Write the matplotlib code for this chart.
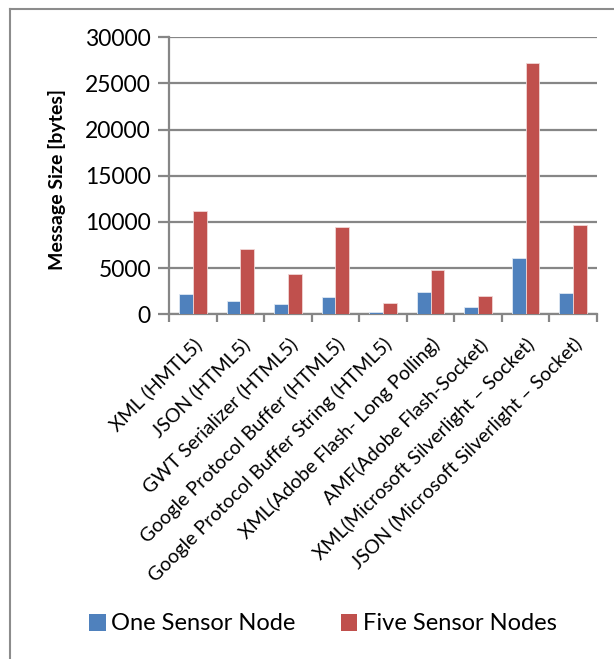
import matplotlib
matplotlib.use("Agg")
import matplotlib.pyplot as plt
from matplotlib.lines import Line2D
from matplotlib.patches import Patch
import numpy as np

plt.rcParams['font.family'] = ['Lato', 'DejaVu Sans']

categories = [
    "XML (HMTL5)",
    "JSON (HTML5)",
    "GWT Serializer (HTML5)",
    "Google Protocol Buffer (HTML5)",
    "Google Protocol Buffer String (HTML5)",
    "XML(Adobe Flash- Long Polling)",
    "AMF(Adobe Flash-Socket)",
    "XML(Microsoft Silverlight \u2013 Socket)",
    "JSON (Microsoft Silverlight \u2013 Socket)",
]
one_node = [2230, 1400, 1080, 1910, 220, 2410, 760, 6150, 2300]
five_nodes = [11200, 7090, 4390, 9500, 1260, 4820, 1940, 27270, 9680]
series_labels = ["One Sensor Node", "Five Sensor Nodes"]
yticks = [0, 5000, 10000, 15000, 20000, 25000, 30000]

blue = "#4F81BD"
red = "#C0504D"
grid_c = "#868686"

W, H = 614, 659
fig = plt.figure(figsize=(W / 100, H / 100), dpi=100)
ax = fig.add_axes([169 / W, 1 - 314.3 / H, (597 - 169) / W, (314.3 - 37.3) / H])

x = np.arange(len(categories))
bw = 0.29
ax.bar(x - bw / 2, one_node, bw, color=blue, edgecolor="#dfe8f3", linewidth=0.6, zorder=3)
ax.bar(x + bw / 2, five_nodes, bw, color=red, edgecolor="#f0d6d5", linewidth=0.6, zorder=3)

ax.set_xlim(-0.5, len(categories) - 0.5)
ax.set_ylim(0, 30000)
ax.set_yticks(yticks)
ax.set_yticklabels([str(v) for v in yticks], fontsize=16.5)
ax.yaxis.grid(True, color=grid_c, linewidth=1.6, zorder=0)
ax.tick_params(axis='y', length=8, width=1.6, color=grid_c, pad=5)

# category boundary ticks on the x axis
ax.set_xticks(np.arange(-0.5, len(categories), 1.0), minor=False)
ax.set_xticklabels([])
ax.tick_params(axis='x', which='major', length=6, width=1.6, color=grid_c)
ax.set_xticks(x, minor=True)
ax.set_xticklabels(categories, minor=True, rotation=45, ha='right',
                   rotation_mode='anchor', fontsize=14)
ax.tick_params(axis='x', which='minor', length=0, pad=15)

for s in ['top', 'right']:
    ax.spines[s].set_visible(False)
for s in ['left', 'bottom']:
    ax.spines[s].set_color(grid_c)
    ax.spines[s].set_linewidth(1.6)

fig.text(57 / W, 1 - 180 / H, "Message Size [bytes]", rotation=90,
         ha='center', va='center', fontsize=14, fontweight='bold')

handles = [Patch(facecolor=blue, edgecolor='none'), Patch(facecolor=red, edgecolor='none')]
fig.legend(handles, series_labels, loc='center', bbox_to_anchor=(323 / W, 1 - 624 / H),
           ncol=2, frameon=False, fontsize=17, handlelength=0.7, handleheight=0.7,
           handletextpad=0.25, columnspacing=1.9, borderpad=0, borderaxespad=0)

# outer chart frame
fig.add_artist(Line2D([9.5 / W, 9.5 / W], [0, 1 - 9 / H], color="#8c8c8c", linewidth=1.5,
                      transform=fig.transFigure))
fig.add_artist(Line2D([9.5 / W, 1], [1 - 9 / H, 1 - 9 / H], color="#8c8c8c", linewidth=1.5,
                      transform=fig.transFigure))

fig.savefig("out.png", dpi=100, facecolor="white")
